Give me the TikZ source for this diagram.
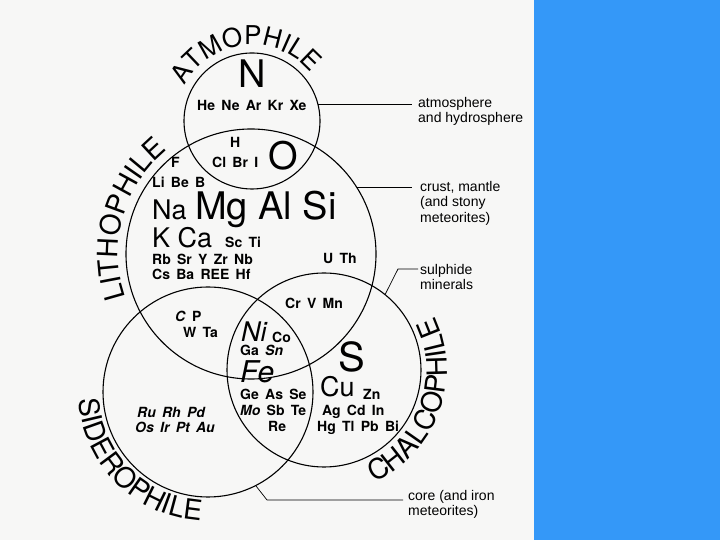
\documentclass[tikz,border=0pt]{standalone}
\usepackage{fontspec}
\setmainfont{TeX Gyre Heros}
\newfontfamily\notefont{Liberation Sans}
\usetikzlibrary{positioning, decorations.text}

\definecolor{slideblue}{RGB}{52,152,248}
\definecolor{paper}{RGB}{247,247,246}

% element and label fonts
\newcommand{\elsmall}{\fontsize{14}{16}\selectfont\bfseries\spaceskip=0.45em plus 0.1em\relax}
\newcommand{\elmid}{\fontsize{27}{30}\selectfont}
\newcommand{\elbig}{\fontsize{38}{40}\selectfont}
\newcommand{\arcfont}{\fontsize{28}{28}\selectfont}

\begin{document}
\begin{tikzpicture}[x=1pt, y=1pt,
    sphere/.style={circle, draw, line width=1.1pt, inner sep=0pt, outer sep=0pt},
    el/.style={anchor=base west, inner sep=0pt},
    note/.style={anchor=north west, align=left, inner sep=0pt,
      font=\notefont\fontsize{14}{15.5}\selectfont},
    leader/.style={line width=0.7pt},
    arclabel/.style={decorate, decoration={text along path, text align=center}}]

  \useasboundingbox (0,0) rectangle (720,540);
  \fill[paper] (0,0) rectangle (534,540);
  \fill[slideblue] (534,0) rectangle (720,540);

  % The four spheres
  \node[sphere, minimum size=136pt] (atm)  at (252,419) {};
  \node[sphere, minimum size=250pt] (lith) at (251,286) {};
  \node[sphere, minimum size=210pt] (sid)  at (208,148) {};
  \node[sphere, minimum size=194pt] (chal) at (324,170) {};

  % Names round the spheres
  \path[arclabel, decoration={text={|\fontsize{26}{26}\selectfont|ATMOPHILE}}]
    (atm.center) ++(165:76pt) arc[start angle=165, end angle=27, radius=76pt];
  \path[arclabel, decoration={text={|\arcfont|LITHOPHILE}}]
    (lith.center) ++(210:133pt) arc[start angle=210, end angle=118, radius=133pt];
  \path[arclabel, decoration={text={|\arcfont|SIDEROPHILE}}]
    (sid.center) ++(172:129pt) arc[start angle=172, end angle=278, radius=129pt];
  \path[arclabel, decoration={text={|\arcfont|CHALCOPHILE}}]
    (chal.center) ++(-75:123pt) arc[start angle=-75, end angle=35, radius=123pt];

  % Atmophile elements
  \node[el, font=\elbig] (n) at (238,452) {N};
  \node[el, font=\elsmall] (noble) at (197,429) {He Ne Ar Kr Xe};

  % Lithophile elements
  \node[el, font=\elsmall] (h) at (230,392) {H};
  \node[el, font=\elsmall] (hal) at (212,372) {Cl Br I};
  \node[el, font=\elbig] (o) at (268,370) {O};
  \node[el, font=\elsmall] (f) at (171,372) {F};
  \node[el, font=\elsmall] (libe) at (152,352) {Li Be B};
  \node[el, font=\elmid] (na) at (152,320) {Na};
  \node[el, font=\elbig] (mg) at (195,320) {Mg Al Si};
  \node[el, font=\elmid] (kca) at (152,292) {K Ca};
  \node[el, font=\elsmall] (scti) at (225,292) {Sc Ti};
  \node[el, font=\elsmall] (rb) at (152,275) {Rb Sr Y Zr Nb};
  \node[el, font=\elsmall] (cs) at (152,260) {Cs Ba REE Hf};
  \node[el, font=\elsmall] (uth) at (323,276) {U Th};
  \node[el, font=\elsmall] (crv) at (285,231) {Cr V Mn};
  \node[el, font=\elsmall] (cp) at (175,218) {\textit{C} P};
  \node[el, font=\elsmall] (wta) at (183,202) {W Ta};

  % Siderophile elements
  \node[el, font=\elmid\itshape] (ni) at (241,198) {Ni};
  \node[el, font=\elsmall] (co) at (272,197) {Co};
  \node[el, font=\elsmall] (gasn) at (240,184) {Ga \textit{Sn}};
  \node[el, font=\fontsize{30}{32}\selectfont\itshape] (fe) at (240,157) {Fe};
  \node[el, font=\elsmall] (ge) at (240,140) {Ge As Se};
  \node[el, font=\elsmall] (mo) at (240,124) {\textit{Mo} Sb Te};
  \node[el, font=\elsmall] (re) at (268,108) {Re};
  \node[el, font=\elsmall\itshape] (ru) at (137,122) {Ru Rh Pd};
  \node[el, font=\elsmall\itshape] (os) at (135,107) {Os Ir Pt Au};

  % Chalcophile elements
  \node[el, font=\fontsize{40}{42}\selectfont] (s) at (338,168) {S};
  \node[el, font=\elmid] (cu) at (320,143) {Cu};
  \node[el, font=\elsmall] (zn) at (363,140) {Zn};
  \node[el, font=\elsmall] (ag) at (322,124) {Ag Cd In};
  \node[el, font=\elsmall] (hg) at (317,108) {Hg Tl Pb Bi};

  % Notes on the right
  \node[note] (atmnote) at (418,443) {atmosphere\\and hydrosphere};
  \node[note] (crustnote) at (420,359) {crust, mantle\\(and stony\\meteorites)};
  \node[note] (sulnote) at (420,276) {sulphide\\minerals};
  \node[note] (corenote) at (408,50) {core (and iron\\meteorites)};

  \coordinate (sulbend) at (398,271);
  \coordinate (corebend) at (267,40);

  \draw[leader] (atm.14) -- ([xshift=-6pt]atm.14 -| atmnote.west);
  \draw[leader] (lith.32) -- ([xshift=-8pt]lith.32 -| crustnote.west);
  \draw[leader] (chal.51) -- (sulbend) -- ([xshift=-2pt]sulbend -| sulnote.west);
  \draw[leader] (sid.-63) -- (corebend) -- ([xshift=-5pt]corebend -| corenote.west);

\end{tikzpicture}
\end{document}
